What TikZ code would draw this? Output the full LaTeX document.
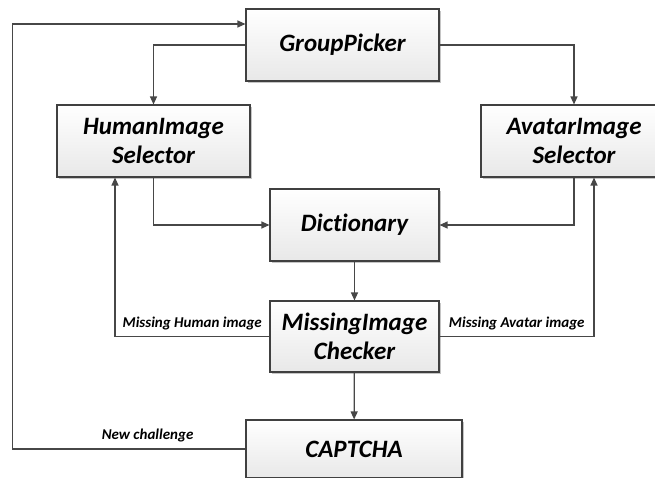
\documentclass[tikz,border=0pt]{standalone}
\usepackage{fontspec}
\setmainfont{Carlito}[Ligatures=NoCommon]
\usetikzlibrary{arrows.meta,shadows}
\definecolor{boxline}{HTML}{404040}
\definecolor{linkline}{HTML}{474747}
\begin{document}
\begin{tikzpicture}[x=1pt,y=-1pt,>={Triangle[length=8pt,width=7pt]}]
            \useasboundingbox (0,0) rectangle (655,477);
            \clip (0,0) rectangle (655,477);
            \tikzset{
                box/.style={draw=boxline, line width=1.1pt, top color=white, bottom color=black!9,
                    align=center, inner sep=2pt, font=\fontsize{25}{29}\selectfont\bfseries\itshape,
                    drop shadow={shadow xshift=1.5pt, shadow yshift=-1.5pt, fill=black!45, opacity=0.5}},
                lbl/.style={font=\fontsize{15}{18}\selectfont\bfseries\itshape, inner sep=1pt},
                link/.style={draw=linkline, line width=1.2pt}
            }
            \begin{scope}[every node/.style={box}]
                \node[minimum width=193pt, minimum height=72pt] (gp) at (342.5, 45) {GroupPicker};
                \node[minimum width=193pt, minimum height=72pt] (his) at (153.5, 141) {HumanImage\\Selector};
                \node[minimum width=186pt, minimum height=72pt] (ais) at (574, 141) {AvatarImage\\Selector};
                \node[minimum width=169pt, minimum height=72pt] (dict) at (354.5, 225) {Dictionary};
                \node[minimum width=169pt, minimum height=71pt] (mic) at (354.5, 336.5) {MissingImage\\Checker};
                \node[minimum width=216pt, minimum height=58pt] (cap) at (354, 449) {CAPTCHA};
            \end{scope}
            \coordinate (hisin) at ([xshift=-38.5pt]his.south);
            \coordinate (aisin) at ([xshift=20pt]ais.south);
            \coordinate (corner) at (12.5, 24);

            \draw[link,->] (gp.west) -| (his.north);
            \draw[link,->] (gp.east) -| (ais.north);
            \draw[link,->] (his.south) |- (dict.west);
            \draw[link,->] (ais.south) |- (dict.east);
            \draw[link,->] (dict) -- (mic);
            \draw[link,->] (mic) -- (cap);
            \draw[link,->] (mic.west) -| node[lbl, above=5pt, pos=0.25] {Missing Human image} (hisin);
            \draw[link,->] (mic.east) -| node[lbl, above=5pt, pos=0.25] {Missing Avatar image} (aisin);
            \draw[link,->] (cap.west) -| node[lbl, above=5pt, pos=0.21] {New challenge} (corner) -- (corner -| gp.west);
        \end{tikzpicture}
\end{document}
